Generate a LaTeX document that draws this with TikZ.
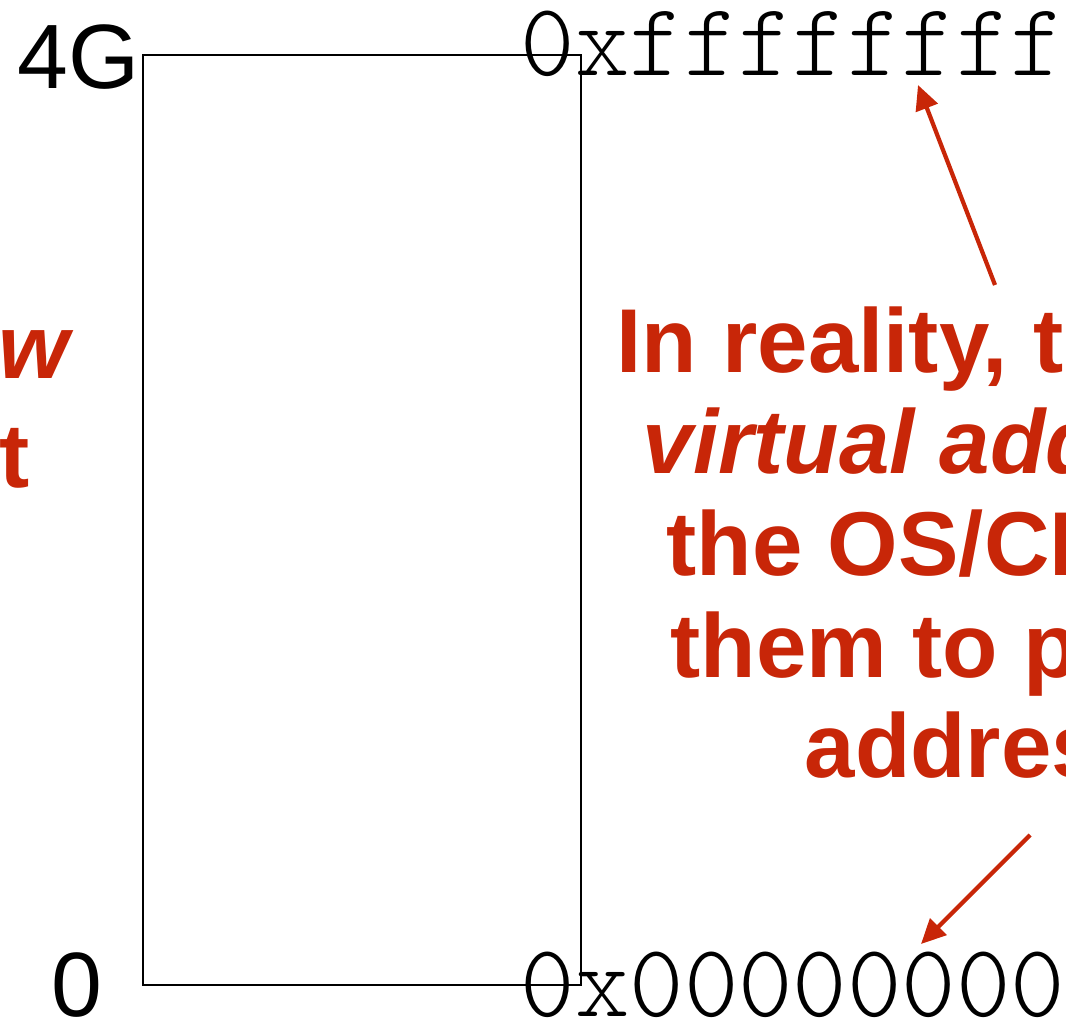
\documentclass[tikz,border=0pt]{standalone}
\usepackage{fontspec}
\setmainfont{Liberation Sans}
\newfontfamily\lightmono{lmmonolt10-regular.otf}
\usetikzlibrary{arrows.meta}
\definecolor{slidered}{RGB}{200,38,8}
\tikzset{ % Common looks of the slide
	bound/.style={draw=black, line width=0.5pt},
	sizelabel/.style={inner sep=0pt, font=\fontsize{26pt}{30pt}\selectfont},
	hexlabel/.style={inner sep=0pt, anchor=base west, font=\lightmono\fontsize{29.5pt}{32pt}\selectfont},
	remark/.style={inner sep=0pt, anchor=base west, text=slidered, font=\bfseries\fontsize{25.8pt}{30pt}\selectfont},
	pointer/.style={draw=slidered, line width=1.2pt, -{Triangle[length=7pt,width=6.5pt]}}
}

\begin{document}
\begin{tikzpicture}
		\useasboundingbox (0,0) rectangle (10.66,10.21);
		\clip (0,0) rectangle (10.66,10.21);
		% Address space box
		\draw [bound] (1.43,0.36) rectangle (5.81,9.66);
		% Sizes
		\node (top) [sizelabel, anchor=base east] at (1.40,9.32) {4G};
		\node (bottom) [sizelabel, anchor=base east] at (1.03,0.05) {0};
		% Addresses
		\node (hightop) [hexlabel] at (5.20,9.45) {0xffffffff};
		\node (lowbottom) [hexlabel] at (5.20,0.05) {0x00000000};
		% Left remark
		\node (leftone) [remark] at (-0.02,6.43) {\itshape w};
		\node (lefttwo) [remark] at (-0.01,5.34) {t};
		% Right remark
		\node (lineone) [remark] at (6.16,6.49) {In reality, t};
		\node (linetwo) [remark] at (6.42,5.48) {\itshape virtual add};
		\node (linethree) [remark] at (6.66,4.46) {the OS/CP};
		\node (linefour) [remark] at (6.70,3.44) {them to p};
		\node (linefive) [remark] at (8.04,2.44) {address};
		% Arrows
		\coordinate (uptail) at (9.95,7.36);
		\coordinate (uptip) at (9.18,9.36);
		\coordinate (downtail) at (10.30,1.86);
		\coordinate (downtip) at (9.21,0.77);
		\draw [pointer] (uptail) -- (uptip);
		\draw [pointer] (downtail) -- (downtip);
		\end{tikzpicture}
\end{document}
